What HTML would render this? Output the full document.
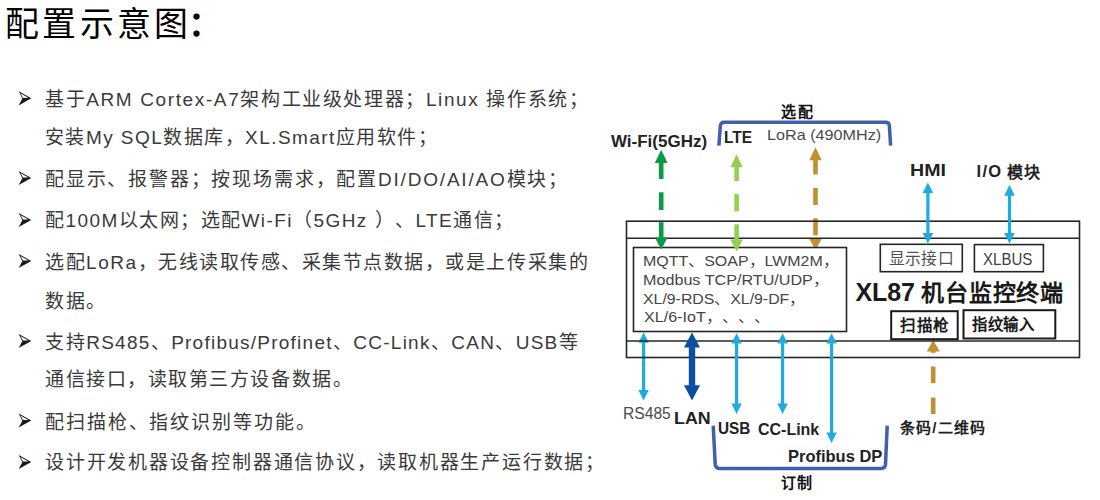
<!DOCTYPE html>
<html lang="zh-CN">
<head>
<meta charset="utf-8">
<style>
html,body{margin:0;padding:0;background:#fff;}
body{width:1100px;height:500px;position:relative;overflow:hidden;text-spacing-trim:space-all;font-family:"Liberation Sans",sans-serif;color:#262626;}
.t{position:absolute;white-space:nowrap;line-height:1;}
.serif{font-family:"Liberation Serif",serif;}
.ln{font-size:19px;letter-spacing:1.6px;left:45px;color:#3a3a3a;}
.ll{letter-spacing:1.243px;}
.bul{position:absolute;left:0;top:0;}
.d{position:absolute;white-space:nowrap;line-height:1;transform-origin:0 0;}
.b{font-weight:bold;color:#222;}
svg{position:absolute;left:0;top:0;}
</style>
</head>
<body>

<div class="t ln" id="l1" style="top:89.7px;letter-spacing:1.62px">基于ARM Cortex-A7架构工业级处理器；Linux 操作系统；</div>
<div class="t ln" id="l2" style="top:127.5px;letter-spacing:1.45px">安装My SQL数据库，XL.Smart应用软件；</div>
<div class="t ln" id="l3" style="top:169.5px;letter-spacing:1.81px">配显示、报警器；按现场需求，配置DI/DO/AI/AO模块；</div>
<div class="t ln" id="l4" style="top:211.3px;letter-spacing:1.448px">配100M以太网；选配Wi-Fi（5GHz ）、LTE通信；</div>
<div class="t ln" id="l5" style="top:252.7px;letter-spacing:1.525px">选配LoRa，无线读取传感、采集节点数据，或是上传采集的</div>
<div class="t ln" id="l6" style="top:292px;letter-spacing:1.6px">数据。</div>
<div class="t ln" id="l7" style="top:333.3px;letter-spacing:1.6px">支持<span class="ll">RS485</span>、<span class="ll">Profibus/Profinet</span>、<span class="ll">CC-Link</span>、<span class="ll">CAN</span>、<span class="ll">USB</span>等</div>
<div class="t ln" id="l8" style="top:370.3px;letter-spacing:1.55px">通信接口，读取第三方设备数据。</div>
<div class="t ln" id="l9" style="top:412.7px;letter-spacing:1.9px">配扫描枪、指纹识别等功能。</div>
<div class="t ln" id="l10" style="top:453.4px;letter-spacing:1.773px">设计开发机器设备控制器通信协议，读取机器生产运行数据；</div>

<svg width="1100" height="500" viewBox="0 0 1100 500">
  <defs>
    <g id="bul">
      <path d="M0,0 L12.6,6.9 L0,14.1 L3.6,7.2 Z" fill="#1a1a1a"/>
      <path d="M1.7,1.9 L9.6,6.5 L4.3,6.6 Z" fill="#fff"/>
    </g>
  </defs>
  <use href="#bul" x="18.7" y="91.3"/>
  <use href="#bul" x="18.7" y="171"/>
  <use href="#bul" x="18.7" y="213"/>
  <use href="#bul" x="18.7" y="254"/>
  <use href="#bul" x="18.7" y="334"/>
  <use href="#bul" x="18.7" y="413.5"/>
  <use href="#bul" x="18.7" y="455"/>

  <!-- arrows -->
<path d="M809.30,160.30 L815.50,147.20 L821.70,160.30 Z" fill="#c09033"/>
<path d="M809.30,238.70 L815.50,250.00 L821.70,238.70 Z" fill="#c09033"/>
<rect x="813.20" y="159.80" width="4.60" height="14.70" fill="#c09033"/>
<rect x="813.20" y="187.90" width="4.60" height="17.00" fill="#c09033"/>
<rect x="813.20" y="218.30" width="4.60" height="17.00" fill="#c09033"/>
<path d="M638.40,342.80 L643.60,332.40 L648.80,342.80 Z" fill="#1eaae2"/>
<path d="M638.40,390.00 L643.60,400.40 L648.80,390.00 Z" fill="#1eaae2"/>
<rect x="642.00" y="342.30" width="3.20" height="48.20" fill="#1eaae2"/>
<path d="M926.75,351.50 L933.20,340.00 L939.65,351.50 Z" fill="#c09033"/>
<rect x="930.90" y="351.00" width="4.60" height="1.80" fill="#c09033"/>
<rect x="930.90" y="366.50" width="4.60" height="16.70" fill="#c09033"/>
<rect x="930.90" y="397.60" width="4.60" height="16.40" fill="#c09033"/>
  <!-- /arrows -->
  <!-- outer box -->
  <g fill="none" stroke="#262626" stroke-width="1.6">
    <rect x="626.5" y="221.2" width="453" height="136.3"/>
    <line x1="626.5" y1="238.2" x2="1079.5" y2="238.2"/>
    <line x1="626.5" y1="341" x2="1079.5" y2="341"/>
    <rect x="633.5" y="247.5" width="213" height="84" fill="#fff"/>
    <rect x="880.3" y="244.3" width="82" height="27.4" fill="#fff"/>
    <rect x="974.4" y="244.6" width="69" height="27.1" fill="#fff"/>
  </g>
  <g fill="#fff" stroke="#1a1a1a" stroke-width="2">
    <rect x="891.2" y="311.2" width="66.5" height="28"/>
    <rect x="963.5" y="310.2" width="91.8" height="28.3"/>
  </g>

  <!-- arrows_over -->
<path d="M654.80,163.00 L661.20,149.80 L667.60,163.00 Z" fill="#0b9b46"/>
<path d="M654.80,237.40 L661.20,249.60 L667.60,237.40 Z" fill="#0b9b46"/>
<rect x="658.90" y="162.50" width="4.60" height="16.50" fill="#0b9b46"/>
<rect x="658.90" y="192.30" width="4.60" height="17.70" fill="#0b9b46"/>
<rect x="658.90" y="222.20" width="4.60" height="15.80" fill="#0b9b46"/>
<path d="M730.40,167.20 L736.60,154.30 L742.80,167.20 Z" fill="#92d050"/>
<path d="M730.40,239.50 L736.60,251.40 L742.80,239.50 Z" fill="#92d050"/>
<rect x="734.30" y="166.70" width="4.60" height="14.30" fill="#92d050"/>
<rect x="734.30" y="194.10" width="4.60" height="17.20" fill="#92d050"/>
<rect x="734.30" y="224.40" width="4.60" height="15.60" fill="#92d050"/>
<path d="M922.60,193.10 L927.90,182.50 L933.20,193.10 Z" fill="#1eaae2"/>
<path d="M922.60,233.00 L927.90,243.60 L933.20,233.00 Z" fill="#1eaae2"/>
<rect x="926.30" y="192.60" width="3.20" height="40.90" fill="#1eaae2"/>
<path d="M1004.20,195.70 L1009.50,185.10 L1014.80,195.70 Z" fill="#1eaae2"/>
<path d="M1004.20,233.00 L1009.50,243.60 L1014.80,233.00 Z" fill="#1eaae2"/>
<rect x="1007.90" y="195.20" width="3.20" height="38.30" fill="#1eaae2"/>
<path d="M684.00,347.60 L692.00,332.40 L700.00,347.60 Z" fill="#0a4fa2"/>
<path d="M684.00,385.20 L692.00,400.40 L700.00,385.20 Z" fill="#0a4fa2"/>
<rect x="688.80" y="347.10" width="6.40" height="38.60" fill="#0a4fa2"/>
<path d="M731.40,343.60 L736.60,333.20 L741.80,343.60 Z" fill="#1eaae2"/>
<path d="M731.40,403.60 L736.60,414.00 L741.80,403.60 Z" fill="#1eaae2"/>
<rect x="735.00" y="343.10" width="3.20" height="61.00" fill="#1eaae2"/>
<path d="M777.40,343.60 L782.60,333.20 L787.80,343.60 Z" fill="#1eaae2"/>
<path d="M777.40,403.60 L782.60,414.00 L787.80,403.60 Z" fill="#1eaae2"/>
<rect x="781.00" y="343.10" width="3.20" height="61.00" fill="#1eaae2"/>
<path d="M826.40,343.60 L831.60,333.20 L836.80,343.60 Z" fill="#1eaae2"/>
<path d="M826.40,432.60 L831.60,443.00 L836.80,432.60 Z" fill="#1eaae2"/>
<rect x="830.00" y="343.10" width="3.20" height="90.00" fill="#1eaae2"/>
  <!-- /arrows_over -->
  <!-- brackets -->
  <g fill="none" stroke="#4060ac" stroke-width="3.5" stroke-linejoin="round">
    <path d="M718.9,145.6 L720.3,126.2 Q720.5,122.2 724.3,122.2 L885.5,122.2 Q889.2,122.2 889.4,126 L890.6,145.6"/>
    <path d="M713.2,425.6 L715.2,464.2 Q715.7,468.4 719.6,468.4 L881.3,468.4 Q885.2,468.4 885.5,464.4 L887.2,425.6"/>
  </g>
</svg>


<!--labels-->
<div class="d b" id="wifi" style="left:610.53px;top:132.76px;font-size:16.35px;transform:scaleX(1.0387);color:#222">Wi-Fi(5GHz)</div>
<div class="d b" id="lte" style="left:723.52px;top:129.15px;font-size:16.20px;transform:scaleX(0.9587);color:#222">LTE</div>
<div class="d b" id="xp" style="left:781.40px;top:104.40px;font-size:15.00px;letter-spacing:1.200px;color:#111">选配</div>
<div class="d" id="lora" style="left:767.15px;top:127.40px;font-size:15.52px;transform:scaleX(1.0421);color:#4a4a4a">LoRa (490MHz)</div>
<div class="d b" id="hmi" style="left:910.42px;top:162.10px;font-size:16.30px;transform:scaleX(1.2053);color:#222">HMI</div>
<div class="d b" id="io" style="left:976.60px;top:163.82px;font-size:16.00px;letter-spacing:0.300px;color:#222"><span style="font-size:16.5px;letter-spacing:1.3px;position:relative;top:-0.5px">I/O</span>&nbsp;模块</div>
<div class="d" id="p1" style="left:642.59px;top:252.70px;font-size:15.00px;transform:scaleX(1.0646);color:#454545">MQTT、SOAP，LWM2M，</div>
<div class="d" id="p2" style="left:642.58px;top:272.00px;font-size:15.00px;transform:scaleX(1.0764);color:#454545">Modbus TCP/RTU/UDP，</div>
<div class="d" id="p3" style="left:642.60px;top:290.80px;font-size:15.00px;transform:scaleX(1.0571);color:#454545">XL/9-RDS、XL/9-DF，</div>
<div class="d" id="p4" style="left:643.57px;top:308.60px;font-size:15.00px;transform:scaleX(1.0735);color:#454545">XL/6-IoT，、、、</div>
<div class="d" id="xsjk" style="left:889.00px;top:250.94px;font-size:15.80px;letter-spacing:0.233px;color:#505050">显示接口</div>
<div class="d" id="xlbus" style="left:983.39px;top:251.75px;font-size:16.60px;transform:scaleX(0.9075);color:#404040">XLBUS</div>
<div class="d b" id="xl87" style="left:855.50px;top:280.00px;font-size:23.00px;letter-spacing:0.750px;color:#1a1a1a"><span style="font-size:25px;letter-spacing:-0.1px;position:relative;top:-0.5px">XL87</span><span style="letter-spacing:0">&nbsp;</span>机台监控终端</div>
<div class="d b" id="smq" style="left:900.10px;top:318.00px;font-size:15.50px;letter-spacing:0.500px;color:#1a1a1a">扫描枪</div>
<div class="d b" id="zwsr" style="left:972.30px;top:317.22px;font-size:15.36px;letter-spacing:0.473px;color:#1a1a1a">指纹输入</div>
<div class="d" id="rs485" style="left:622.94px;top:406.10px;font-size:16.00px;transform:scaleX(0.9762);color:#4a4a4a">RS485</div>
<div class="d b" id="lan" style="left:674.05px;top:410.52px;font-size:16.60px;transform:scaleX(1.0737);color:#222">LAN</div>
<div class="d b" id="usb" style="left:718.14px;top:421.35px;font-size:16.60px;transform:scaleX(0.9248);color:#222">USB</div>
<div class="d b" id="cclink" style="left:758.46px;top:421.71px;font-size:16.60px;transform:scaleX(0.9625);color:#222">CC-Link</div>
<div class="d b" id="profibus" style="left:787.96px;top:448.93px;font-size:16.60px;transform:scaleX(0.9927);color:#222">Profibus DP</div>
<div class="d b" id="dz" style="left:781.30px;top:474.78px;font-size:15.00px;letter-spacing:0.900px;color:#111">订制</div>
<div class="d b" id="tm" style="left:899.90px;top:419.50px;font-size:15.00px;letter-spacing:1.200px;color:#222">条码/二维码</div>
<div class="d serif" id="title" style="left:5.00px;top:8.32px;font-size:33.89px;letter-spacing:3.250px;color:#000">配置示意图<span style="margin-left:-3px;font-weight:bold">：</span></div>
<!--/labels-->
</body>
</html>
